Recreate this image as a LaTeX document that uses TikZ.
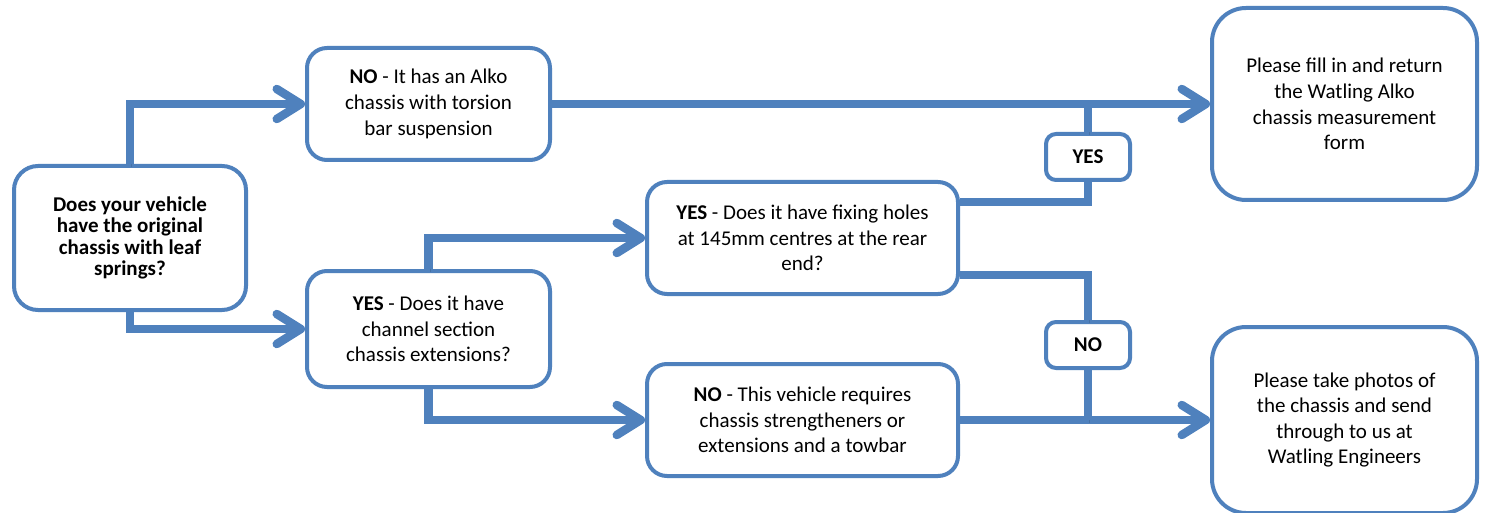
\documentclass[tikz,border=0pt]{standalone}
\usepackage{fontspec}
\setmainfont{Carlito}
\usetikzlibrary{arrows.meta}
\definecolor{ob}{HTML}{4F81BD}
\begin{document}
\begin{tikzpicture}[x=1pt,y=-1pt,
  box/.style={draw=ob, line width=4pt, fill=white, align=center, inner sep=0pt,
    font=\fontsize{21}{25.6}\selectfont},
  conn/.style={draw=ob, line width=8.5pt,
    preaction={draw=black, opacity=0.12, transform canvas={xshift=1.5pt,yshift=-3pt}}},
  arr/.style={-{Straight Barb[length=24pt,width=30pt,round]}}]
\useasboundingbox (0,0) rectangle (1485,513);
\fill[white] (0,0) rectangle (1485,513);
% nodes
\node[box, rounded corners=24pt, minimum width=232pt, minimum height=144pt,
  font=\bfseries\fontsize{21}{21.3}\selectfont] (A) at (130,238)
  {Does your vehicle\\have the original\\chassis with leaf\\springs?};
\node[box, rounded corners=20pt, minimum width=243pt, minimum height=112pt] (B) at (428.5,104)
  {\textbf{NO} - It has an Alko\\chassis with torsion\\bar suspension};
\node[box, rounded corners=20pt, minimum width=243pt, minimum height=116pt] (C) at (428.5,329)
  {\textbf{YES} - Does it have\\channel section\\chassis extensions?};
\node[box, rounded corners=20pt, minimum width=311pt, minimum height=112pt] (D) at (802.5,238)
  {\textbf{YES} - Does it have fixing holes\\at 145mm centres at the rear\\end?};
\node[box, rounded corners=20pt, minimum width=311pt, minimum height=112pt] (E) at (802.5,420)
  {\textbf{NO} - This vehicle requires\\chassis strengtheners or\\extensions and a towbar};
\node[box, rounded corners=34pt, minimum width=265pt, minimum height=192pt] (F) at (1344.5,104)
  {Please fill in and return\\the Watling Alko\\chassis measurement\\form};
\node[box, rounded corners=34pt, minimum width=265pt, minimum height=186pt] (G) at (1344.5,420)
  {Please take photos of\\the chassis and send\\through to us at\\Watling Engineers};
\node[box, rounded corners=10pt, minimum width=84pt, minimum height=46pt,
  font=\bfseries\fontsize{21}{25.6}\selectfont] (L1) at (1088,157) {YES};
\node[box, rounded corners=10pt, minimum width=84pt, minimum height=46pt,
  font=\bfseries\fontsize{21}{25.6}\selectfont] (L2) at (1088,345) {NO};
% connectors
\draw[conn, arr] (A.north) |- (B.west);
\draw[conn, arr] (A.south) |- (C.west);
\draw[conn, arr] (C.north) |- (D.west);
\draw[conn, arr] (C.south) |- (E.west);
\draw[conn, arr] (B.east) -- (F.west);
\draw[conn, arr] (E.east) -- (G.west);
\draw[conn] ([yshift=36pt]D.east) -| (L1.south);
\draw[conn] (L1.north) -- (L1.north |- B.east);
\draw[conn] ([yshift=-37pt]D.east) -| (L2.north);
\draw[conn] (L2.south) -- (L2.south |- E.east);
\end{tikzpicture}
\end{document}
